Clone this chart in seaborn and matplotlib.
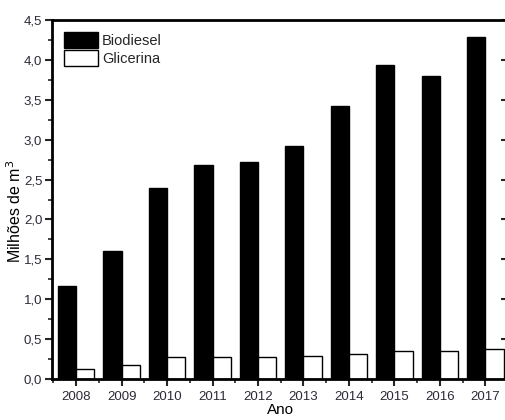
import matplotlib
matplotlib.use("Agg")
import matplotlib.pyplot as plt
import seaborn as sns
import pandas as pd
from matplotlib.ticker import MultipleLocator, FuncFormatter

anos = ["2008", "2009", "2010", "2011", "2012", "2013", "2014", "2015", "2016", "2017"]
biodiesel = [1.17, 1.61, 2.39, 2.68, 2.72, 2.92, 3.42, 3.94, 3.80, 4.29]
glicerina = [0.12, 0.17, 0.27, 0.28, 0.28, 0.29, 0.31, 0.35, 0.35, 0.37]
series_names = ["Biodiesel", "Glicerina"]

df = pd.DataFrame({
    "Ano": anos * 2,
    "valor": biodiesel + glicerina,
    "serie": [series_names[0]] * len(anos) + [series_names[1]] * len(anos),
})

sns.set_style("white")
plt.rcParams["font.family"] = ["Liberation Sans", "DejaVu Sans"]
txt = "#2b2b38"

fig = plt.figure(figsize=(5.06, 4.2), dpi=100)
ax = fig.add_axes([52 / 506, 1 - 379 / 420, (509 - 52) / 506, (379 - 20) / 420])

sns.barplot(data=df, x="Ano", y="valor", hue="serie", order=anos,
            hue_order=series_names, palette=["black", "white"],
            edgecolor="black", linewidth=1.0, width=0.8, ax=ax,
            saturation=1, legend=True)

ax.set_xlim(-0.53, len(anos) - 1 + 0.52)
ax.set_ylim(0, 4.5)
ax.yaxis.set_major_locator(MultipleLocator(0.5))
ax.yaxis.set_minor_locator(MultipleLocator(0.25))
ax.xaxis.set_minor_locator(MultipleLocator(0.5))
ax.yaxis.set_major_formatter(FuncFormatter(lambda v, p: f"{v:.1f}".replace(".", ",")))

for s in ax.spines.values():
    s.set_linewidth(2.0)
    s.set_color("black")

ax.tick_params(axis="y", which="major", direction="out", length=5, width=1.5,
               labelsize=9.5, labelcolor=txt, left=True, right=False, pad=2)
ax.tick_params(axis="y", which="minor", direction="out", length=3, width=1.2,
               left=True, right=False)
ax.tick_params(axis="x", which="major", direction="out", length=5, width=1.5,
               labelsize=9.5, labelcolor=txt, bottom=True, top=False, pad=4)
ax.tick_params(axis="x", which="minor", direction="out", length=3, width=1.2,
               bottom=True, top=False)

# right-hand inward ticks via secondary axis
sec = ax.secondary_yaxis("right")
sec.yaxis.set_major_locator(MultipleLocator(0.5))
sec.yaxis.set_minor_locator(MultipleLocator(0.25))
sec.tick_params(axis="y", which="major", direction="in", length=6, width=1.5,
                labelright=False)
sec.tick_params(axis="y", which="minor", direction="in", length=3, width=1.2)
sec.spines["right"].set_linewidth(2.0)

ax.set_xlabel("Ano", fontsize=11, color="black", labelpad=0)
ax.set_ylabel("Milhões de m$^3$", fontsize=11.5, color="black")
ax.yaxis.set_label_coords(-0.062, 0.468)

handles, labels = ax.get_legend_handles_labels()
ax.legend(handles, labels, loc="upper left", bbox_to_anchor=(12 / 457, 1 - 12 / 359),
          frameon=False, fontsize=10.5, handlelength=2.3, handleheight=1.3,
          handletextpad=0.3, labelspacing=0.15, borderpad=0, borderaxespad=0)

fig.savefig("out.png", dpi=100)
